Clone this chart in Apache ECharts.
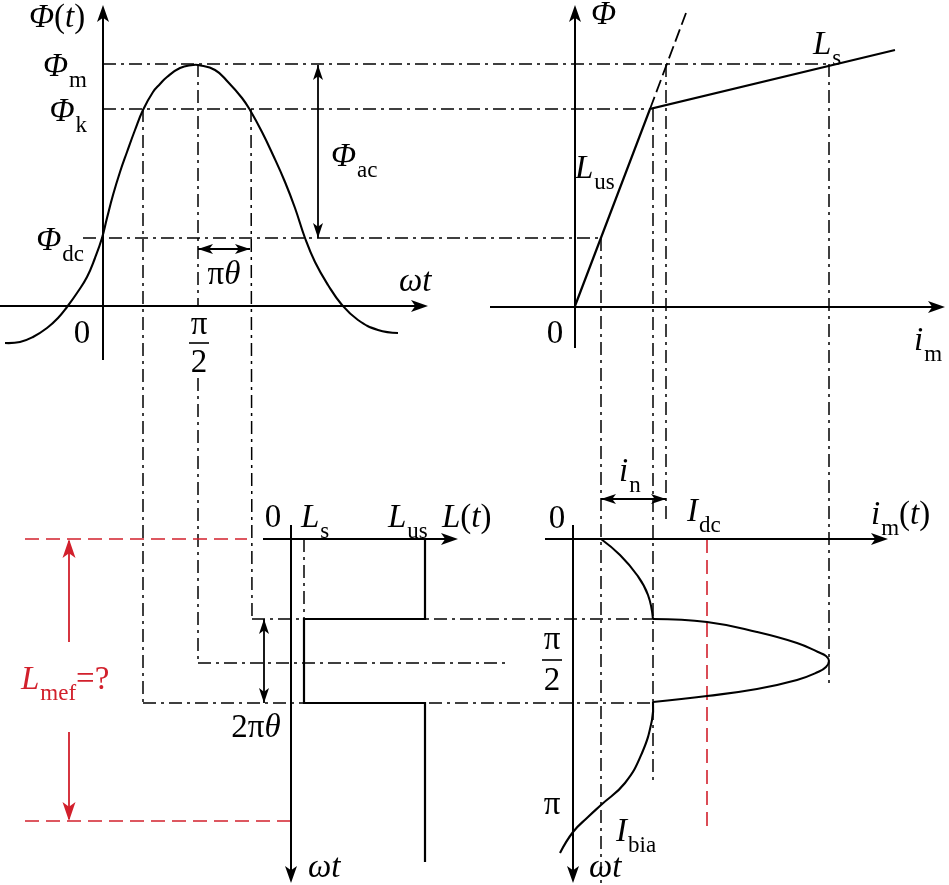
<!DOCTYPE html>
<html>
<head>
<meta charset="utf-8">
<script src="https://cdn.jsdelivr.net/npm/echarts@6/dist/echarts.min.js"></script>
<style>html,body{margin:0;padding:0;background:#fff}#c{width:949px;height:885px}</style>
</head>
<body>
<div id="c"></div>
<script>
// ---- diagram data (picture coordinates) ----
const fluxCurve = [[5,343],[20,342],[33,337],[47,328],[58,318],[67,307],[77,293],[87,277],[95,258],[102,238],[107,218],[113,195],[120,172],[127,152],[135,130],[143,110],[153,92],[160,84],[167,77],[180,68],[193,65],[198,65],[215,70],[228,82],[242,98],[250,110],[262,132],[273,155],[285,182],[295,208],[305,238],[315,262],[328,285],[342,305],[358,320],[378,330],[398,333]];
const currentRise = [[601,539],[620,555],[637,575],[648,595],[653,619]];
const currentLobe = [[653,619],[707,622],[757,632],[797,643],[818,652],[826,656],[829,661],[826,667],[818,672],[797,680],[757,689],[707,696],[653,702]];
const currentFall = [[653,702],[652,720],[642,753],[625,783],[601,805],[588,817],[573,832],[560,853]];
const magnetCurve = [[575,306],[650,109],[895,50]];
const inductanceStep = [[425,539],[425,619],[304,619],[304,703],[425,703],[425,862]];
const axisLines = [
  [[103,360],[103,8]], [[0,306],[425,306]],
  [[575,348],[575,8]], [[490,307],[942,307]],
  [[263,539],[455,539]], [[291,525],[291,880]],
  [[545,539],[885,539]], [[573,525],[573,880]]
];
const fractionBars = [[[189,343],[209,343]], [[542,660],[562,660]]];
const doubleArrowLines = [[[318,65],[318,238]], [[198,249],[250,249]], [[601,499],[666,499]], [[264,619],[264,703]]];
const dashedLines = [[[650,109],[686,13]]];
const dashDotLines = [
  [[103,64],[829,64]], [[103,109],[650,109]], [[83,238],[601,238]],
  [[252,619],[653,619]], [[198,663],[507,663]], [[143,703],[653,703]],
  [[143,109],[143,703]], [[198,64],[198,306]], [[198,378],[198,663]], [[251,109],[252,619]],
  [[601,238],[601,885]], [[653,109],[653,783]], [[666,64],[666,520]], [[829,64],[829,683]],
  [[304,539],[304,619]]
];
const redDashedLines = [[[25,539],[247,539]], [[25,821],[291,821]], [[707,539],[707,828]]];
const redArrowLines = [[[69,642],[69,541]], [[69,732],[69,819]]];
const arrowUp = [[103,5],[575,5]];
const arrowDown = [[291,883],[573,883]];
const arrowRight = [[428,306],[945,307],[458,539],[888,539]];
const smallArrowUp = [[318,65],[264,619]];
const smallArrowDown = [[318,238],[264,703]];
const smallArrowRight = [[250,249],[666,499]];
const smallArrowLeft = [[198,249],[601,499]];
const redArrowUp = [[69,539]];
const redArrowDown = [[69,821]];
// text: [x, y of glyph centre, markup, align]
const textItems = [
  [29,18,'{i|Φ}{r|(}{i|t}{r|)}','left'],
  [87,67,'{i|Φ}{s|m}','right'],
  [87,112,'{i|Φ}{s|k}','right'],
  [84,241,'{i|Φ}{s|dc}','right'],
  [331,157,'{i|Φ}{s|ac}','left'],
  [224,275,'{r|π}{i|θ}','center'],
  [399,282,'{i|ωt}','left'],
  [82,334,'{r|0}','center'],
  [199,325,'{r|π}','center'],
  [199,363,'{r|2}','center'],
  [591,15,'{i|Φ}','left'],
  [575,169,'{i|L}{s|us}','left'],
  [813,45,'{i|L}{s|s}','left'],
  [555,334,'{r|0}','center'],
  [914,341,'{i|i}{s|m}','left'],
  [273,518,'{r|0}','center'],
  [301,518,'{i|L}{s|s}','left'],
  [388,518,'{i|L}{s|us}','left'],
  [442,518,'{i|L}{r|(}{i|t}{r|)}','left'],
  [256,728,'{r|2π}{i|θ}','center'],
  [21,680,'{ri|L}{rs|mef}{rr|=?}','left'],
  [308,868,'{i|ωt}','left'],
  [557,519,'{r|0}','center'],
  [619,472,'{i|i}{s|n}','left'],
  [687,512,'{i|I}{s|dc}','left'],
  [871,515,'{i|i}{s|m}{r|(}{i|t}{r|)}','left'],
  [552,640,'{r|π}','center'],
  [552,681,'{r|2}','center'],
  [552,805,'{r|π}','center'],
  [616,832,'{i|I}{s|bia}','left'],
  [589,868,'{i|ωt}','left']
];

// ---- styles ----
const F = '"Liberation Serif","Times New Roman",serif';
const BLACK = '#000';
const RED = '#d2202c';
const DASHDOT = [13,5,3,5];
const MAIN = 33, SUB = 23;
const P_UP = 'path://M5,16 L10,32 L5,28 L0,32 Z M5,0';
const P_DOWN = 'path://M5,16 L10,0 L5,4 L0,0 Z M5,32';
const P_RIGHT = 'path://M16,5 L0,10 L4,5 L0,0 Z M32,5';
const P_LEFT = 'path://M16,5 L32,10 L28,5 L32,0 Z M0,5';

function linesSeries(paths, color, width, type) {
  return {
    type: 'lines', coordinateSystem: 'cartesian2d', polyline: true, silent: true,
    symbol: 'none', animation: false,
    lineStyle: { color: color, width: width, type: type || 'solid', opacity: 1, curveness: 0 },
    data: paths.map(p => ({ coords: p }))
  };
}
// smooth spline through the read points, positioned through the axes (api.coord)
function curveSeries(points) {
  return {
    type: 'custom', coordinateSystem: 'cartesian2d', silent: true, animation: false,
    data: points,
    renderItem: function (params, api) {
      if (params.dataIndex !== 0) return null;
      return {
        type: 'polyline',
        shape: { points: points.map(p => api.coord(p)), smooth: 0.45 },
        style: { stroke: BLACK, lineWidth: 2.1, fill: null }
      };
    }
  };
}
function arrowSeries(points, path, size, color) {
  return {
    type: 'scatter', silent: true, animation: false, symbol: path, symbolSize: size,
    itemStyle: { color: color, opacity: 1 }, data: points
  };
}
const tok = (c, size, italic, pad) => ({
  fontFamily: F, fontSize: size, lineHeight: size, fontStyle: italic ? 'italic' : 'normal',
  verticalAlign: 'top', color: c, padding: pad || [0,0,0,0]
});
const richStyles = {
  i: tok(BLACK, MAIN, true), r: tok(BLACK, MAIN, false), s: tok(BLACK, SUB, false, [19,0,0,1]),
  ri: tok(RED, MAIN, true), rr: tok(RED, MAIN, false), rs: tok(RED, SUB, false, [19,0,0,1])
};

const chart = echarts.init(document.getElementById('c'), null, { renderer: 'canvas' });
chart.setOption({
  backgroundColor: '#fff',
  animation: false,
  grid: { left: 0, right: 0, top: 0, bottom: 0 },
  xAxis: { type: 'value', min: 0, max: 949, show: false },
  yAxis: { type: 'value', min: 0, max: 885, inverse: true, show: false },
  series: [
    linesSeries(dashDotLines, BLACK, 1.5, DASHDOT),
    linesSeries(redDashedLines, RED, 1.6, [14,7]),
    linesSeries(dashedLines, BLACK, 1.8, [13,5]),
    linesSeries(axisLines, BLACK, 2),
    linesSeries(fractionBars, BLACK, 1.6),
    linesSeries(doubleArrowLines, BLACK, 1.8),
    linesSeries(redArrowLines, RED, 1.8),
    linesSeries([magnetCurve, inductanceStep], BLACK, 2.2),
    curveSeries(fluxCurve),
    curveSeries(currentRise),
    curveSeries(currentLobe),
    curveSeries(currentFall),
    arrowSeries(arrowUp, P_UP, [12,34], BLACK),
    arrowSeries(arrowDown, P_DOWN, [12,34], BLACK),
    arrowSeries(arrowRight, P_RIGHT, [34,12], BLACK),
    arrowSeries(smallArrowUp, P_UP, [10,30], BLACK),
    arrowSeries(smallArrowDown, P_DOWN, [10,30], BLACK),
    arrowSeries(smallArrowRight, P_RIGHT, [30,10], BLACK),
    arrowSeries(smallArrowLeft, P_LEFT, [30,10], BLACK),
    arrowSeries(redArrowUp, P_UP, [13,38], RED),
    arrowSeries(redArrowDown, P_DOWN, [13,38], RED),
    {
      type: 'scatter', silent: true, animation: false, symbolSize: 0,
      itemStyle: { opacity: 1 },
      data: textItems.map(t => ({
        value: [t[0], t[1]],
        label: {
          show: true, position: [0,0], offset: [0,-MAIN/2], align: t[3], verticalAlign: 'top',
          color: BLACK, opacity: 1, formatter: t[2], rich: richStyles
        }
      }))
    }
  ]
});
</script>
</body>
</html>
